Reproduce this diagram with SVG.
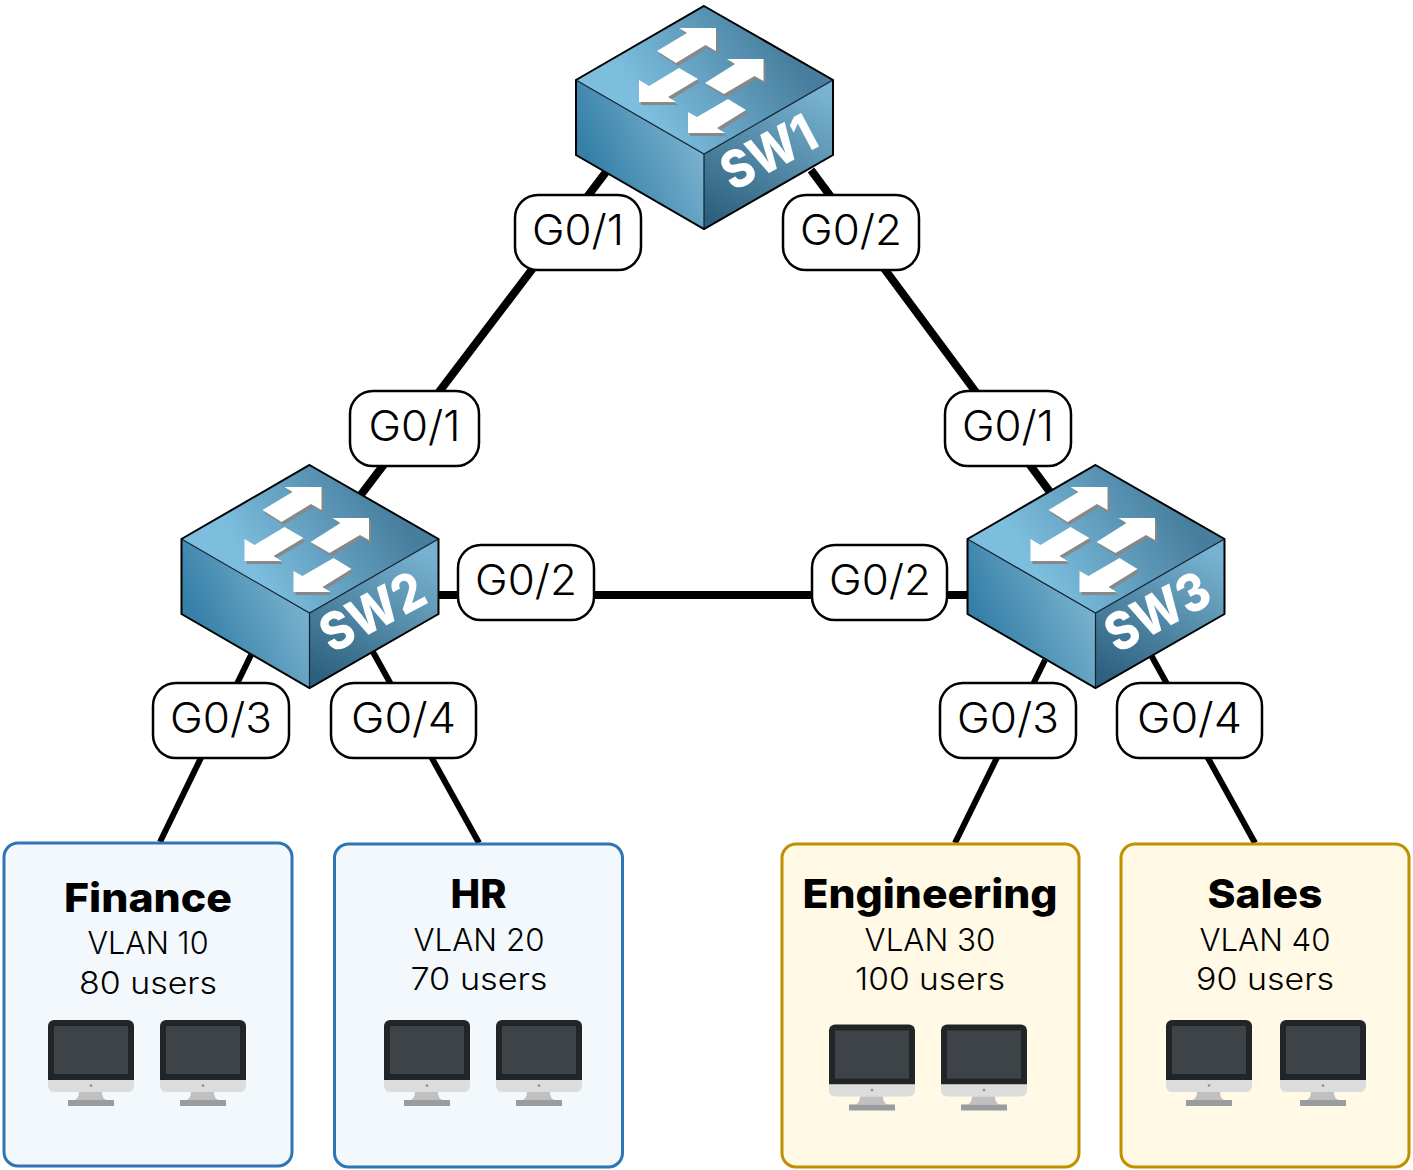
<svg xmlns="http://www.w3.org/2000/svg" xmlns:xlink="http://www.w3.org/1999/xlink" width="1413" height="1170" viewBox="0 0 1413 1170">
<style>
text{font-family:"Inter","Liberation Sans",sans-serif;text-anchor:middle;fill:#000}
.port{font-size:42px;font-weight:300}
.sub{font-size:31px;font-weight:300}
.title{font-size:40px;font-weight:800}
.sw{font-size:52px;font-weight:800;fill:#fff;text-anchor:start}
.pill{fill:#fff;stroke:#000;stroke-width:2.5}
.link{stroke:#000;fill:none}
.thick{stroke-width:8}
.thin{stroke-width:6}
.blue{fill:#f3f8fc;stroke:#2e75b6;stroke-width:3}
.gold{fill:#fff9e5;stroke:#bf9000;stroke-width:3}
</style>
<defs>
<linearGradient id="gt" gradientUnits="userSpaceOnUse" x1="-50" y1="120" x2="80" y2="35"><stop offset="0" stop-color="#7dbedf"/><stop offset="1" stop-color="#477d9d"/></linearGradient>
<linearGradient id="gl" gradientUnits="userSpaceOnUse" x1="-110" y1="165" x2="-10" y2="120"><stop offset="0" stop-color="#3680a8"/><stop offset="1" stop-color="#7cb3d0"/></linearGradient>
<linearGradient id="gr" gradientUnits="userSpaceOnUse" x1="110" y1="85" x2="30" y2="225"><stop offset="0" stop-color="#78b2d0"/><stop offset="1" stop-color="#2c607e"/></linearGradient>
<g id="arrows">
<polygon points="12,22 -25,22 -17,27 -47,45 -28,57 1.500,39 12,45"/>
<polygon points="1,77 20,88 50.500,70 59.500,75 59.500,53 23,53 31,58"/>
<polygon points="-65,96 -65,74 -55,80 -25,62 -6,73 -36,91 -28,96"/>
<polygon points="-16,127 -16,106 -7,111 24,93 42,104 13,122 21,127"/>
</g>
<g id="switch">
<polygon points="0,148 -128,74 -128,149 0,223" fill="url(#gl)"/>
<polygon points="0,148 129,74 129,149 0,223" fill="url(#gr)"/>
<polygon points="0,0 129,74 0,148 -128,74" fill="url(#gt)"/>
<path d="M-128,74 0,148 129,74M0,148V223" fill="none" stroke="#10222e" stroke-width="1.200"/>
<polygon points="0,0 129,74 129,149 0,223 -128,149 -128,74" fill="none" stroke="#000" stroke-width="2"/>
<use href="#arrows" x="2" y="3" fill="#888"/>
<use href="#arrows" fill="#fff"/>
</g>
<g id="pc">
<path d="M6,0H80a6,6 0 0 1 6,6V60H0V6a6,6 0 0 1 6,-6Z" fill="#212527"/>
<rect x="6" y="6" width="74" height="48" fill="#3e4347"/>
<path d="M0,60H86V66a6,6 0 0 1 -6,6H6a6,6 0 0 1 -6,-6Z" fill="#dcdcdc"/>
<circle cx="43" cy="65.500" r="1.300" fill="#8c8c8c"/>
<path d="M31,72H54C54,76 56,80 59,80H26C29,80 31,76 31,72Z" fill="#c0c0c0"/>
<rect x="20" y="80" width="46" height="6" fill="#999da0"/>
</g>
</defs>
<g id="connectors">
<path class="link thick" d="M606,172 360,496"/>
<path class="link thick" d="M811,170 1050,492"/>
<path class="link thick" d="M438,595H967"/>
<path class="link thin" d="M251,655 160,842"/>
<path class="link thin" d="M373,652 479,843"/>
<path class="link thin" d="M1045,660 955,843"/>
<path class="link thin" d="M1151,655 1255,843"/>
</g>
<g id="SW1"><use href="#switch" x="704" y="6"/><text class="sw" x="733" y="192" textLength="100" lengthAdjust="spacingAndGlyphs" transform="rotate(-28 733 192)">SW1</text></g>
<g id="SW2"><use href="#switch" x="309.500" y="465"/><text class="sw" x="332" y="654" textLength="111" lengthAdjust="spacingAndGlyphs" transform="rotate(-28 332 654)">SW2</text></g>
<g id="SW3"><use href="#switch" x="1095.500" y="465"/><text class="sw" x="1117" y="654" textLength="111" lengthAdjust="spacingAndGlyphs" transform="rotate(-28 1117 654)">SW3</text></g>
<g id="port-sw1-g01"><rect class="pill" x="515" y="195" width="126" height="75" rx="23"/><text class="port" x="578" y="245" textLength="92" lengthAdjust="spacingAndGlyphs">G0/1</text></g>
<g id="port-sw1-g02"><rect class="pill" x="783" y="195" width="136" height="75" rx="23"/><text class="port" x="851" y="245" textLength="102" lengthAdjust="spacingAndGlyphs">G0/2</text></g>
<g id="port-sw2-g01"><rect class="pill" x="350" y="391" width="129" height="75" rx="23"/><text class="port" x="414.500" y="441" textLength="92" lengthAdjust="spacingAndGlyphs">G0/1</text></g>
<g id="port-sw3-g01"><rect class="pill" x="945" y="391" width="126" height="75" rx="23"/><text class="port" x="1008" y="441" textLength="92" lengthAdjust="spacingAndGlyphs">G0/1</text></g>
<g id="port-sw2-g02"><rect class="pill" x="458" y="545" width="136" height="75" rx="23"/><text class="port" x="526" y="595" textLength="102" lengthAdjust="spacingAndGlyphs">G0/2</text></g>
<g id="port-sw3-g02"><rect class="pill" x="812" y="545" width="135" height="75" rx="23"/><text class="port" x="880" y="595" textLength="102" lengthAdjust="spacingAndGlyphs">G0/2</text></g>
<g id="port-sw2-g03"><rect class="pill" x="153" y="683" width="136" height="75" rx="23"/><text class="port" x="221" y="733" textLength="102" lengthAdjust="spacingAndGlyphs">G0/3</text></g>
<g id="port-sw2-g04"><rect class="pill" x="331" y="683" width="145" height="75" rx="23"/><text class="port" x="403.500" y="733" textLength="105" lengthAdjust="spacingAndGlyphs">G0/4</text></g>
<g id="port-sw3-g03"><rect class="pill" x="940" y="683" width="136" height="75" rx="23"/><text class="port" x="1008" y="733" textLength="102" lengthAdjust="spacingAndGlyphs">G0/3</text></g>
<g id="port-sw3-g04"><rect class="pill" x="1117" y="683" width="145" height="75" rx="23"/><text class="port" x="1189.500" y="733" textLength="105" lengthAdjust="spacingAndGlyphs">G0/4</text></g>
<g id="finance"><rect class="blue" x="4" y="843" width="288" height="323" rx="14"/><text class="title" x="148" y="912" textLength="168" lengthAdjust="spacingAndGlyphs">Finance</text><text class="sub" x="148" y="954" textLength="121" lengthAdjust="spacingAndGlyphs">VLAN 10</text><text class="sub" x="148" y="994" textLength="138" lengthAdjust="spacingAndGlyphs">80 users</text><use href="#pc" x="48" y="1020"/><use href="#pc" x="160" y="1020"/></g>
<g id="hr"><rect class="blue" x="334.500" y="844" width="288" height="323" rx="14"/><text class="title" x="478.500" y="908" textLength="56" lengthAdjust="spacingAndGlyphs">HR</text><text class="sub" x="479" y="951" textLength="131" lengthAdjust="spacingAndGlyphs">VLAN 20</text><text class="sub" x="479" y="990" textLength="137" lengthAdjust="spacingAndGlyphs">70 users</text><use href="#pc" x="384" y="1020"/><use href="#pc" x="496" y="1020"/></g>
<g id="engineering"><rect class="gold" x="782" y="844" width="297" height="323" rx="14"/><text class="title" x="930" y="908" textLength="255" lengthAdjust="spacingAndGlyphs">Engineering</text><text class="sub" x="930" y="951" textLength="131" lengthAdjust="spacingAndGlyphs">VLAN 30</text><text class="sub" x="930" y="990" textLength="150" lengthAdjust="spacingAndGlyphs">100 users</text><use href="#pc" x="829" y="1024.500"/><use href="#pc" x="941" y="1024.500"/></g>
<g id="sales"><rect class="gold" x="1121" y="844" width="288" height="323" rx="14"/><text class="title" x="1265" y="908" textLength="115" lengthAdjust="spacingAndGlyphs">Sales</text><text class="sub" x="1265" y="951" textLength="131" lengthAdjust="spacingAndGlyphs">VLAN 40</text><text class="sub" x="1265" y="990" textLength="138" lengthAdjust="spacingAndGlyphs">90 users</text><use href="#pc" x="1166" y="1020"/><use href="#pc" x="1280" y="1020"/></g>
</svg>
